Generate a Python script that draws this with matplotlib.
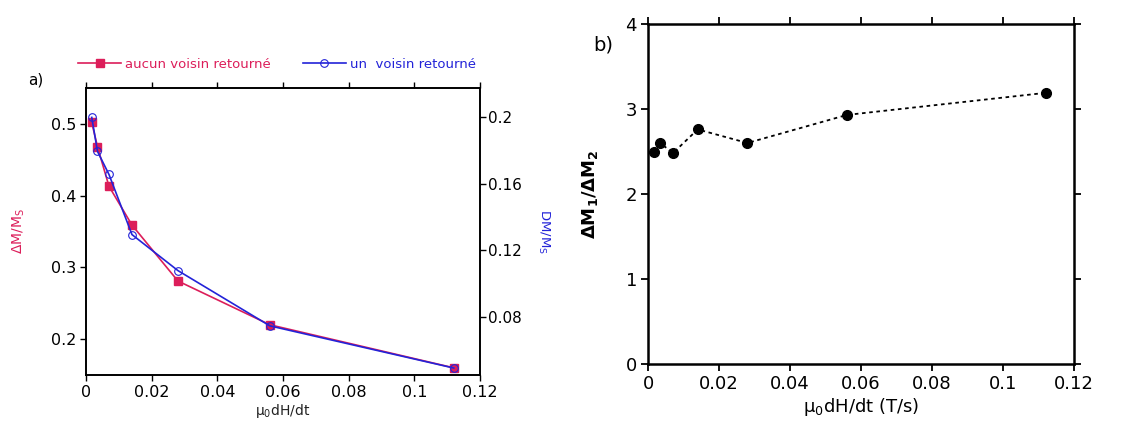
import numpy as np
import matplotlib
matplotlib.use('Agg')
import matplotlib.pyplot as plt

plt.rcParams['font.family'] = 'DejaVu Sans'
plt.rcParams['mathtext.default'] = 'regular'

# donnees
rate = [0.00175, 0.0035, 0.007, 0.014, 0.028, 0.056, 0.112]
dm_aucun = [0.502, 0.468, 0.413, 0.359, 0.281, 0.220, 0.160]   # axe gauche
dm_un = [0.2, 0.1795, 0.1656, 0.1294, 0.1077, 0.0744, 0.049]   # axe droit
ratio = [2.50, 2.60, 2.48, 2.76, 2.60, 2.93, 3.19]

RED = '#DC1E5A'
BLUE = '#2323D8'

W, H = 1138, 426
fig = plt.figure(figsize=(W / 100, H / 100), dpi=100)


def box(l, t, r, b):
    return [l / W, 1 - b / H, (r - l) / W, (b - t) / H]


# --- panneau a)
ax = fig.add_axes(box(86, 88, 480, 375))
ax2 = ax.twinx()
l1, = ax.plot(rate, dm_aucun, color=RED, lw=1.2, marker='s', ms=5.5, label='aucun voisin retourné')
l2, = ax2.plot(rate, dm_un, color=BLUE, lw=1.2, marker='o', ms=5.5, mfc='none', mew=0.8,
               label='un  voisin retourné')
ax.set_xlim(0, 0.12)
ax.set_ylim(0.15, 0.55)
ax2.set_ylim(0.0448, 0.2177)
ax.set_xticks([0, 0.02, 0.04, 0.06, 0.08, 0.1, 0.12])
ax.set_xticklabels(['0', '0.02', '0.04', '0.06', '0.08', '0.1', '0.12'])
ax.set_yticks([0.2, 0.3, 0.4, 0.5])
ax2.set_yticks([0.08, 0.12, 0.16, 0.2])
ax2.set_yticklabels(['0.08', '0.12', '0.16', '0.2'])
ax.tick_params(direction='out', length=4, width=1, labelsize=11.5, top=True, pad=3)
ax2.tick_params(direction='out', length=4, width=1, labelsize=11, pad=2)
for a in (ax, ax2):
    for sp in a.spines.values():
        sp.set_linewidth(1.2)
ax.set_ylabel('ΔM/M$_S$', color=RED, fontsize=10, labelpad=17)
ax2.set_ylabel('DM/M$_S$', color=BLUE, fontsize=9.5, rotation=-90, labelpad=21)
ax.set_xlabel('μ$_0$dH/dt', fontsize=10, color='#222222', labelpad=2)
fig.legend([l1, l2], [l1.get_label(), l2.get_label()], ncol=2, frameon=False,
           loc='center', bbox_to_anchor=(277 / W, 1 - 64 / H), fontsize=9.5,
           handlelength=3.2, columnspacing=2.5, handletextpad=0.3, labelcolor=[RED, BLUE])
fig.text(28 / W, 1 - 80 / H, 'a)', fontsize=11, va='center')

# --- panneau b)
bx = fig.add_axes(box(648, 24, 1074, 364))
bx.plot(rate, ratio, color='black', ls=(0, (2, 2)), lw=1.3, marker='o', ms=7)
bx.set_xlim(0, 0.12)
bx.set_ylim(0, 4)
bx.set_xticks([0, 0.02, 0.04, 0.06, 0.08, 0.1, 0.12])
bx.set_xticklabels(['0', '0.02', '0.04', '0.06', '0.08', '0.1', '0.12'])
bx.set_yticks([0, 1, 2, 3, 4])
bx.tick_params(direction='out', length=5, width=1.3, labelsize=13, top=True, right=True,
               labelright=False, pad=3)
for sp in bx.spines.values():
    sp.set_linewidth(1.8)
bx.set_ylabel(r'ΔM$_\mathbf{1}$/ΔM$_\mathbf{2}$', fontsize=13, fontweight='bold', labelpad=18)
bx.set_xlabel('μ$_0$dH/dt (T/s)', fontsize=13, labelpad=2)
fig.text(603 / W, 1 - 45 / H, 'b)', fontsize=14, va='center', ha='center')

fig.savefig('out.png', dpi=100)
